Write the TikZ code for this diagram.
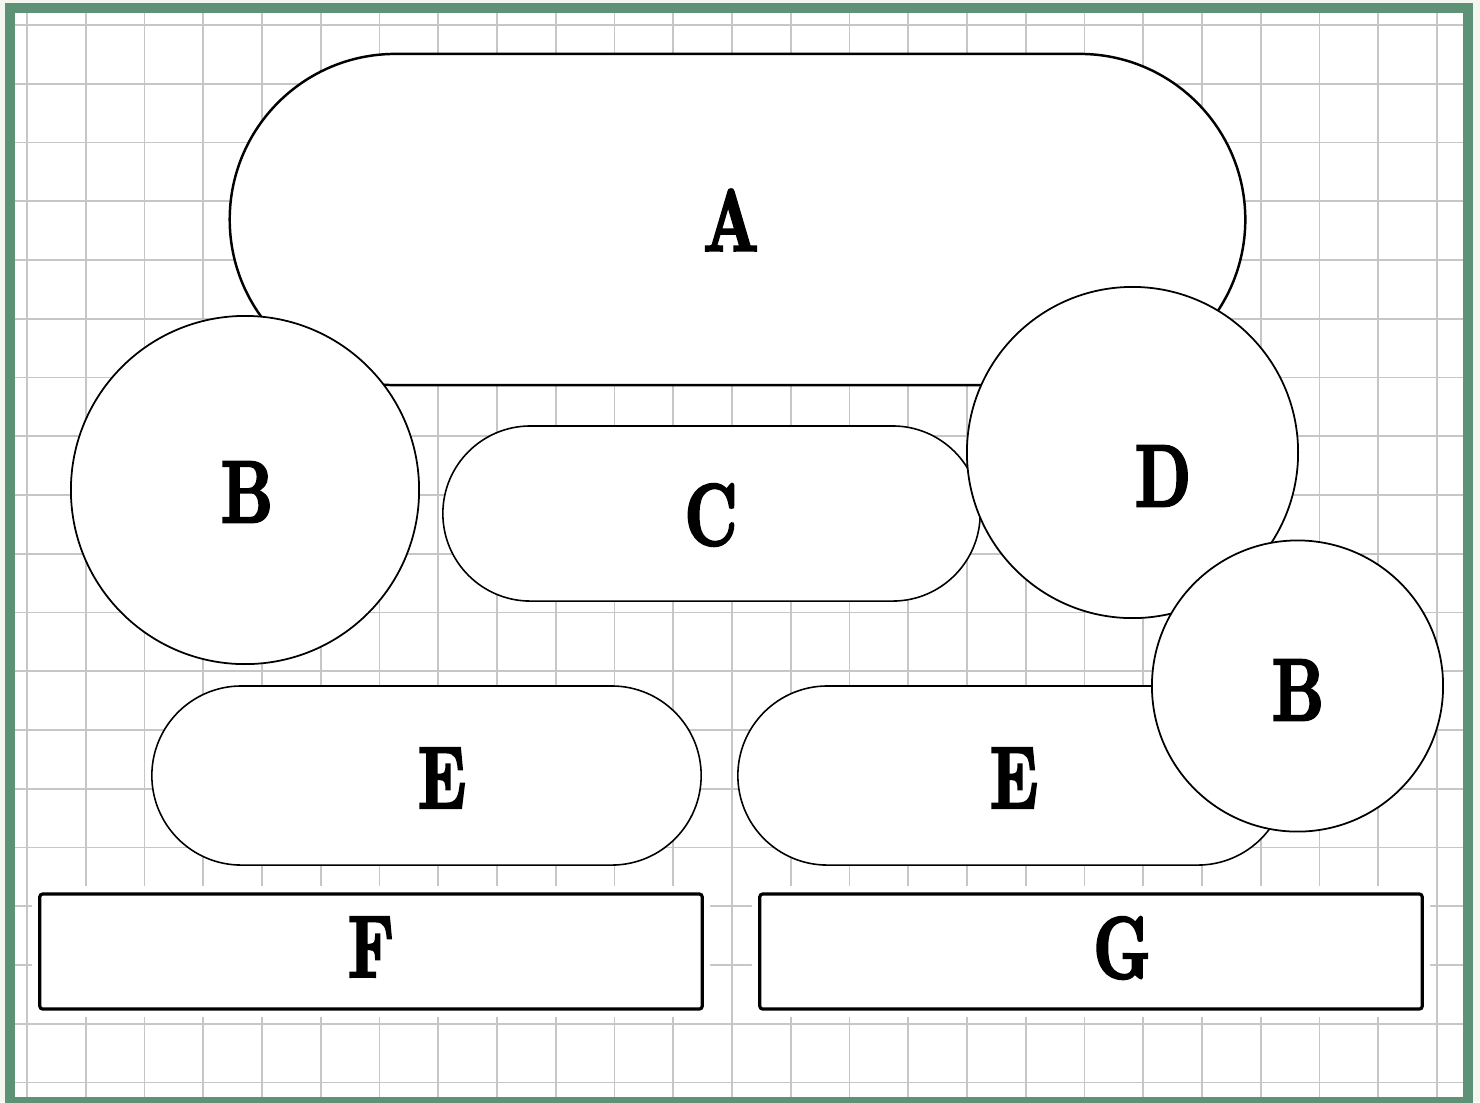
\documentclass[tikz,border=0pt]{standalone}
\usepackage{fontspec}
\newfontfamily\lblfont{lmroman10-bold.otf}[FakeStretch=0.72, FakeBold=2.6]
\usetikzlibrary{shapes.misc}
\definecolor{framegreen}{HTML}{5E9277}
\definecolor{paper}{HTML}{F3F7EF}
\definecolor{gridgray}{HTML}{C6C6C6}
\tikzset{
  gridline/.style={gridgray, line width=0.5pt},
  ring/.style={circle, draw, fill=white, line width=0.5pt, inner sep=0pt},
  pill/.style={rounded rectangle, draw, fill=white, line width=0.45pt, inner sep=0pt},
  slab/.style={rectangle, draw, fill=white, line width=0.9pt, rounded corners=0.8pt,
    preaction={draw=white, line width=4.5pt}},
  lbl/.style={font=\lblfont\fontsize{25}{30}\selectfont, inner sep=0pt},
}
\begin{document}
\begin{tikzpicture}[x=0.01cm, y=-0.01cm]
  \useasboundingbox (0,0) rectangle (1480,1102);
  % Fond et quadrillage
  \fill[paper] (0,0) rectangle (1480,1102);
  \fill[white] (15,13) rectangle (1463,1097);
  \foreach \i in {0,...,24}
    \draw[gridline] ({27+58.75*\i},13) -- ({27+58.75*\i},1097);
  \foreach \j in {0,...,18}
    \draw[gridline] (15,{25+58.75*\j}) -- (1463,{25+58.75*\j});
  % Formes
  \node[pill, line width=0.7pt, minimum width=10.15cm, minimum height=3.31cm] (A) at (737.5,219.5) {};
  \node[ring, minimum size=3.48cm] (B1) at (245,490) {};
  \node[pill, minimum width=5.37cm, minimum height=1.75cm] (C) at (711.5,513.5) {};
  \node[ring, minimum size=3.31cm] (D) at (1132.5,452.5) {};
  \node[pill, minimum width=5.49cm, minimum height=1.79cm] (E1) at (426.5,775.5) {};
  \node[pill, minimum width=5.49cm, minimum height=1.79cm] (E2) at (1012.5,775.5) {};
  \node[ring, minimum size=2.91cm] (B2) at (1297.5,686) {};
  \node[slab, minimum width=6.62cm, minimum height=1.15cm] (F) at (371,951.5) {};
  \node[slab, minimum width=6.62cm, minimum height=1.15cm] (G) at (1091,951.5) {};
  % Lettres
  \node[lbl] (lA) at (731,220) {A};
  \node[lbl] (lB1) at (247,492) {B};
  \node[lbl] (lC) at (711,515) {C};
  \node[lbl] (lD) at (1163,476) {D};
  \node[lbl] (lE1) at (442,778) {E};
  \node[lbl] (lE2) at (1014,778) {E};
  \node[lbl] (lB2) at (1298,690) {B};
  \node[lbl] (lF) at (371,947) {F};
  \node[lbl] (lG) at (1122,948) {G};
  % Cadre
  \draw[framegreen, line width=0.1cm] (10,8) rectangle (1468,1102);
\end{tikzpicture}
\end{document}
